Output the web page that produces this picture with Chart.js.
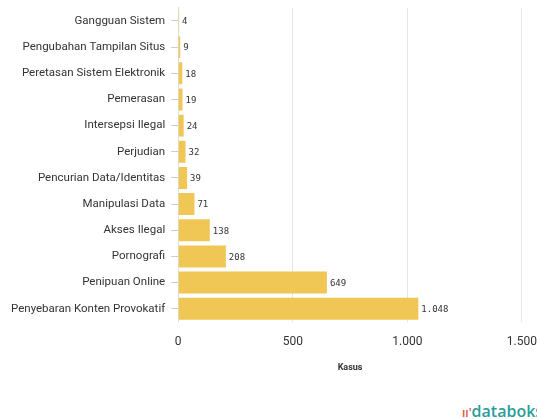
<!DOCTYPE html>
<html lang="id">
<head>
  <meta charset="utf-8">
  <title>Kasus Kejahatan Siber</title>
  <script src="https://cdn.jsdelivr.net/npm/chart.js"></script>
  <style>
    body { margin: 0; background: #fff; width: 537px; height: 419px; overflow: hidden; position: relative; font-family: Roboto, "Open Sans", sans-serif; }
    .grafico { position: absolute; left: 0; top: -5px; width: 550px; height: 382px; }
    .logo { position: absolute; left: 462px; top: 400px; font-size: 16px; font-weight: 600; color: #2a9d9a; white-space: nowrap; font-family: "Open Sans", sans-serif; }
    .logo span { color: #e0503a; font-size: 12px; }
  </style>
</head>
<body>
  <div class="grafico">
    <canvas id="kasus"></canvas>
  </div>
  <div class="logo"><span>ıı'</span>databoks</div>

<script>
  // dados do gráfico
  var kategori = [
    'Gangguan Sistem',
    'Pengubahan Tampilan Situs',
    'Peretasan Sistem Elektronik',
    'Pemerasan',
    'Intersepsi Ilegal',
    'Perjudian',
    'Pencurian Data/Identitas',
    'Manipulasi Data',
    'Akses Ilegal',
    'Pornografi',
    'Penipuan Online',
    'Penyebaran Konten Provokatif'
  ];
  var jumlahKasus = [4, 9, 18, 19, 24, 32, 39, 71, 138, 208, 649, 1048];
  var ticksX = [0, 500, 1000, 1500];

  function formatAngka(n) {
    return String(n).replace(/\B(?=(\d{3})+(?!\d))/g, '.');
  }

  // rótulos de valor no final de cada barra
  var rotuloValor = {
    id: 'rotuloValor',
    afterDatasetsDraw: function (chart) {
      var ctx = chart.ctx;
      var meta = chart.getDatasetMeta(0);
      ctx.save();
      ctx.font = '9px "DejaVu Sans Mono", monospace';
      ctx.fillStyle = '#333';
      ctx.textBaseline = 'middle';
      ctx.textAlign = 'left';
      for (var i = 0; i < meta.data.length; i++) {
        var barra = meta.data[i];
        ctx.fillText(formatAngka(jumlahKasus[i]), barra.x + 3, barra.y + 1);
      }
      ctx.restore();
    }
  };

  const config = {
    type: 'bar',
    data: {
      labels: kategori,
      datasets: [{
        data: jumlahKasus,
        backgroundColor: '#F0C654',
        borderWidth: 0,
        barPercentage: 0.84,
        categoryPercentage: 1
      }]
    },
    options: {
      indexAxis: 'y',
      responsive: true,
      maintainAspectRatio: false,
      animation: false,
      layout: { padding: { top: 0, right: 0, left: 5, bottom: 0 } },
      plugins: {
        legend: { display: false },
        tooltip: { enabled: false }
      },
      scales: {
        x: {
          min: 0,
          max: 1500,
          afterBuildTicks: function (axis) {
            axis.ticks = ticksX.map(function (v) { return { value: v }; });
          },
          grid: { color: '#e6e6e6', drawTicks: false, lineWidth: 1 },
          border: { display: false },
          ticks: {
            color: '#333',
            padding: 13,
            font: { family: 'Roboto', size: 12 },
            callback: function (v) { return formatAngka(v); }
          },
          title: {
            display: true,
            text: 'Kasus',
            color: '#333',
            font: { family: 'Roboto', size: 9, weight: 'bold' },
            padding: { top: 0, bottom: 4 }
          }
        },
        y: {
          grid: { offset: false, drawOnChartArea: false, drawTicks: true, tickLength: 7, color: '#ccc' },
          border: { display: true, color: '#ddd' },
          ticks: {
            color: '#333',
            padding: 6,
            font: { family: 'Roboto', size: 11.5 }
          }
        }
      }
    },
    plugins: [rotuloValor]
  };

  new Chart(document.getElementById('kasus'), config);
</script>
</body>
</html>
